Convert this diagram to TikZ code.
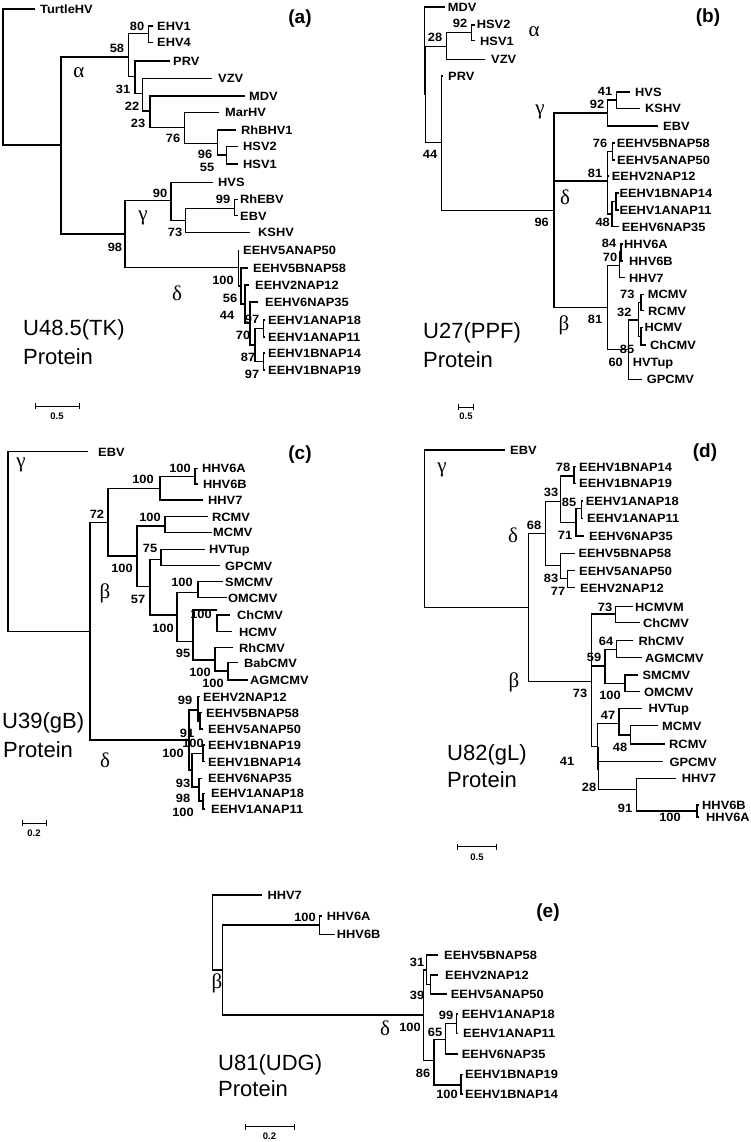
\documentclass[tikz,border=0pt]{standalone}
\usepackage{fontspec}
\setmainfont{Liberation Sans}
\newfontfamily\labfam[FakeStretch=1.07]{Liberation Sans}
\newfontfamily\gkfam{Liberation Serif}
\newcommand\lfont{\labfam\bfseries\fontsize{12}{12}\selectfont}
\newcommand\gfont{\gkfam\fontsize{21}{21}\selectfont}
\newcommand\tfont{\fontsize{22}{26}\selectfont}
\newcommand\pfont{\bfseries\fontsize{19}{19}\selectfont}
\newcommand\sfont{\bfseries\fontsize{9.5}{9.5}\selectfont}
\tikzset{
  br/.style={line width=1.2pt},
  lf/.style={anchor=west, inner sep=0pt, font=\lfont, text height=8.6pt, text depth=0pt},
  bs/.style={inner sep=0pt, font=\lfont, text height=8.6pt, text depth=0pt},
  gk/.style={inner sep=0pt, font=\gfont},
  ttl/.style={anchor=west, inner sep=0pt, font=\tfont},
  pl/.style={inner sep=0pt, font=\pfont},
  sc/.style={inner sep=0pt, font=\sfont},
}
\begin{document}
\begin{tikzpicture}[x=1pt,y=-1pt]
\useasboundingbox[fill=white] (0,0) rectangle (750,1142);
% ================= (a) =================
\begin{scope}[br]
\draw (35,9) -| (3,145) -- (61,145);
\draw (128.3,57) -| (61,234) -- (125,234);
\draw (148.3,33.3) -| (128.3,76.7) -- (135,76.7);
\draw (153.3,26) -| (148.3,42.7) -- (153.3,42.7);
\draw (170,61) -| (135,93.3) -- (142.7,93.3);
\draw (212,78.3) -| (142.7,111) -- (150,111);
\draw (245,96) -| (150,127.3) -- (184.3,127.3);
\draw (219,112.7) -| (184.3,143.3) -- (217.3,143.3);
\draw (236,130) -| (217.3,155) -- (226.7,155);
\draw (238,146.7) -| (226.7,164) -- (238,164);
\draw (171,200.7) -| (125,267.7) -- (238.7,267.7);
\draw (213,182.3) -| (171,220.7) -- (185.3,220.7);
\draw (234.7,208.3) -| (185.3,232.3) -- (250,232.3);
\draw (238.3,199.3) -| (234.7,215.7) -- (238.3,215.7);
\draw (238.7,250) |- (241,286);
\draw (248,268) -| (241,304) -- (245,304);
\draw (249,285) -| (245,323.5) -- (250,323.5);
\draw (258,302) -| (250,345) -- (255,345);
\draw (263.3,328.5) -| (255,361.5) -- (263.3,361.5);
\draw (265,320) -| (263.3,337) -- (265,337);
\draw (265,353) -| (263.3,370) -- (265,370);
\end{scope}
\node[lf] (aTurtle) at (40,9) {TurtleHV};
\node[lf] (aEHV1) at (157,26) {EHV1};
\node[lf] (aEHV4) at (157,42.7) {EHV4};
\node[lf] (aPRV) at (173,61) {PRV};
\node[lf] (aVZV) at (218,78.3) {VZV};
\node[lf] (aMDV) at (249,96) {MDV};
\node[lf] (aMarHV) at (225,112.7) {MarHV};
\node[lf] (aRhBHV) at (241,130) {RhBHV1};
\node[lf] (aHSV2) at (243,146.7) {HSV2};
\node[lf] (aHSV1) at (243,164) {HSV1};
\node[lf] (aHVS) at (218,182.3) {HVS};
\node[lf] (aRhEBV) at (240,199.3) {RhEBV};
\node[lf] (aEBV) at (240,215.7) {EBV};
\node[lf] (aKSHV) at (258,232.3) {KSHV};
\node[lf] (a5A) at (243,250) {EEHV5ANAP50};
\node[lf] (a5B) at (253,268) {EEHV5BNAP58};
\node[lf] (a2) at (255,285) {EEHV2NAP12};
\node[lf] (a6) at (265,302) {EEHV6NAP35};
\node[lf] (a1A18) at (268,320) {EEHV1ANAP18};
\node[lf] (a1A11) at (268,337) {EEHV1ANAP11};
\node[lf] (a1B14) at (268,353) {EEHV1BNAP14};
\node[lf] (a1B19) at (268,370) {EEHV1BNAP19};
\node[bs] (ab1) at (137,26) {80};
\node[bs] (ab2) at (117,48) {58};
\node[bs] (ab3) at (123,89) {31};
\node[bs] (ab4) at (132,106) {22};
\node[bs] (ab5) at (138,123) {23};
\node[bs] (ab6) at (173,138) {76};
\node[bs] (ab7) at (205,154) {96};
\node[bs] (ab8) at (207,167) {55};
\node[bs] (ab9) at (160,193) {90};
\node[bs] (ab10) at (223,199) {99};
\node[bs] (ab11) at (175,232) {73};
\node[bs] (ab12) at (115,247) {98};
\node[bs] (ab13) at (223,280) {100};
\node[bs] (ab14) at (230,298) {56};
\node[bs] (ab15) at (227,315) {44};
\node[bs] (ab16) at (252,319) {97};
\node[bs] (ab17) at (243,335) {70};
\node[bs] (ab18) at (248,357) {87};
\node[bs] (ab19) at (252,374) {97};
\node[gk] (aal) at (79,73) {α};
\node[gk] (aga) at (143,218) {γ};
\node[gk] (ade) at (177,293) {δ};
\node[ttl] (at1) at (23,330) {U48.5(TK)};
\node[ttl] (at2) at (23,357) {Protein};
\node[pl] (apl) at (300,19) {(a)};
\draw[line width=1pt] (35,403) -- (35,409) (35,406) -- (79,406) (79,403) -- (79,409);
\node[sc] (asc) at (57,416) {0.5};
% ================= (b) =================
\begin{scope}[br]
\draw (445,7) -| (424.5,95);
\draw (446.7,46.7) -| (425.8,142.7) -- (441.7,142.7);
\draw (471.7,32.3) -| (446.7,59.3) -- (485,59.3);
\draw (475,25) -| (471.7,40.7) -- (475,40.7);
\draw (443.3,76) -| (441.7,210.7) -- (554,210.7);
\draw (607.3,113) -| (554,307.3) -- (607.3,307.3);
\draw (554,181) -- (607.3,181);
\draw (616.7,100) -| (607.3,126) -- (658,126);
\draw (630,92) -| (616.7,108.3) -- (640,108.3);
\draw (612.3,151.7) -| (607.3,214) -- (612,214);
\draw (607.3,176) -- (609,176);
\draw (614.5,143) -| (612.3,160) -- (614.5,160);
\draw (616,201.5) -| (612,226.7) -- (619,226.7);
\draw (618.5,193) -| (616,210) -- (618.5,210);
\draw (619.5,265.3) -| (607.3,349.3) -- (628.3,349.3);
\draw (621,252) -| (619.5,277.7) -- (625,277.7);
\draw (622.5,244) -| (621,261) -- (622.5,261);
\draw (638.3,320) -| (628.3,379.3) -- (641.7,379.3);
\draw (641,302.5) -| (638.3,336.2) -- (641,336.2);
\draw (644,294.3) -| (641,310.7) -- (644,310.7);
\draw (643,327.3) -| (641,345) -- (646,345);
\end{scope}
\node[lf] (bMDV) at (447.7,7) {MDV};
\node[lf] (bHSV2) at (476.7,24) {HSV2};
\node[lf] (bHSV1) at (480,41) {HSV1};
\node[lf] (bVZV) at (491,59.3) {VZV};
\node[lf] (bPRV) at (448,76) {PRV};
\node[lf] (bHVS) at (635,92) {HVS};
\node[lf] (bKSHV) at (645,108.3) {KSHV};
\node[lf] (bEBV) at (663,126) {EBV};
\node[lf] (b5B) at (616.7,143) {EEHV5BNAP58};
\node[lf] (b5A) at (617,160) {EEHV5ANAP50};
\node[lf] (b2) at (611.7,176) {EEHV2NAP12};
\node[lf] (b1B14) at (619.3,193) {EEHV1BNAP14};
\node[lf] (b1A11) at (619.3,210) {EEHV1ANAP11};
\node[lf] (b6) at (621.7,226.7) {EEHV6NAP35};
\node[lf] (bHHV6A) at (624,244) {HHV6A};
\node[lf] (bHHV6B) at (629,261) {HHV6B};
\node[lf] (bHHV7) at (629,278) {HHV7};
\node[lf] (bMCMV) at (647.7,294.3) {MCMV};
\node[lf] (bRCMV) at (648,310.7) {RCMV};
\node[lf] (bHCMV) at (644.3,327.3) {HCMV};
\node[lf] (bChCMV) at (650,345) {ChCMV};
\node[lf] (bHVTup) at (632.7,362.3) {HVTup};
\node[lf] (bGPCMV) at (646.7,379.3) {GPCMV};
\node[bs] (bb1) at (460,23) {92};
\node[bs] (bb2) at (435,37) {28};
\node[bs] (bb3) at (430,154) {44};
\node[bs] (bb4) at (605,91) {41};
\node[bs] (bb5) at (597,104) {92};
\node[bs] (bb6) at (600,143) {76};
\node[bs] (bb7) at (595,173) {81};
\node[bs] (bb8) at (602.7,222) {48};
\node[bs] (bb9) at (541.7,222) {96};
\node[bs] (bb10) at (609,243) {84};
\node[bs] (bb11) at (610,257) {70};
\node[bs] (bb12) at (627.3,294.3) {73};
\node[bs] (bb13) at (624.3,311.7) {32};
\node[bs] (bb14) at (595,319) {81};
\node[bs] (bb15) at (627,349) {85};
\node[bs] (bb16) at (615.7,362.3) {60};
\node[gk] (bal) at (534,32) {α};
\node[gk] (bga) at (540,112) {γ};
\node[gk] (bde) at (565,197) {δ};
\node[gk] (bbe) at (564,325) {β};
\node[ttl] (bt1) at (423,333) {U27(PPF)};
\node[ttl] (bt2) at (423,360) {Protein};
\node[pl] (bpl) at (708,18) {(b)};
\draw[line width=1pt] (458,404) -- (458,410) (458,407) -- (473,407) (473,404) -- (473,410);
\node[sc] (bsc) at (466,416) {0.5};
% ================= (c) =================
\begin{scope}[br]
\draw (88,451.7) -| (8,631.7) -- (90,631.7);
\draw (108,522.7) -| (90,740) -- (189,740);
\draw (160,488.3) -| (108,556) -- (137,556);
\draw (195,476.7) -| (160,500) -- (203,500);
\draw (198,468.3) -| (195,484) -- (198,484);
\draw (165,526) -| (137,586.7) -- (150,586.7);
\draw (208,516.7) -| (165,532.3) -- (212,532.3);
\draw (161,559.3) -| (150,615) -- (177,615);
\draw (205,549.3) -| (161,565.7) -- (220,565.7);
\draw (198,592.3) -| (177,641.7) -- (193,641.7);
\draw (223,581.7) -| (198,597.7) -- (227,597.7);
\draw (217,610) -| (193,660) -- (215,660);
\draw (230,615) -| (217,631.7) -- (232,631.7);
\draw (233,647.7) -| (215,671) -- (228,671);
\draw (238,662.7) -| (228,680) -- (248,680);
\draw (198,710) -| (189,770) -- (192,770);
\draw (200,696.7) -| (198,721) -- (200,721);
\draw (201.7,712.7) -| (200,729) -- (203,729);
\draw (203,753.3) -| (192,787) -- (199,787);
\draw (204.5,745) -| (203,761.7) -- (204.5,761.7);
\draw (202,778.3) -| (199,801) -- (203,801);
\draw (204.5,793.3) -| (203,809) -- (204.5,809);
\end{scope}
\node[lf] (cEBV) at (98,451.7) {EBV};
\node[lf] (cHHV6A) at (202,468.3) {HHV6A};
\node[lf] (cHHV6B) at (203,484) {HHV6B};
\node[lf] (cHHV7) at (208,500) {HHV7};
\node[lf] (cRCMV) at (212,516.7) {RCMV};
\node[lf] (cMCMV) at (213,532.3) {MCMV};
\node[lf] (cHVTup) at (209,549.3) {HVTup};
\node[lf] (cGPCMV) at (225,565.7) {GPCMV};
\node[lf] (cSMCMV) at (225,581.7) {SMCMV};
\node[lf] (cOMCMV) at (228,597.7) {OMCMV};
\node[lf] (cChCMV) at (237,615) {ChCMV};
\node[lf] (cHCMV) at (239,631.7) {HCMV};
\node[lf] (cRhCMV) at (239,647.7) {RhCMV};
\node[lf] (cBabCMV) at (244,662.7) {BabCMV};
\node[lf] (cAGMCMV) at (250,680) {AGMCMV};
\node[lf] (c2) at (203,696.7) {EEHV2NAP12};
\node[lf] (c5B) at (206,712.7) {EEHV5BNAP58};
\node[lf] (c5A) at (208,729) {EEHV5ANAP50};
\node[lf] (c1B19) at (208,745) {EEHV1BNAP19};
\node[lf] (c1B14) at (208,761.7) {EEHV1BNAP14};
\node[lf] (c6) at (208,778.3) {EEHV6NAP35};
\node[lf] (c1A18) at (211,793.3) {EEHV1ANAP18};
\node[lf] (c1A11) at (211,809) {EEHV1ANAP11};
\node[bs] (cb1) at (97,514) {72};
\node[bs] (cb2) at (143,479) {100};
\node[bs] (cb3) at (180,468) {100};
\node[bs] (cb4) at (150,517) {100};
\node[bs] (cb5) at (122,568) {100};
\node[bs] (cb6) at (150,548) {75};
\node[bs] (cb7) at (138,599) {57};
\node[bs] (cb8) at (182,582) {100};
\node[bs] (cb9) at (163,628) {100};
\node[bs] (cb10) at (201,614) {100};
\node[bs] (cb11) at (183,653) {95};
\node[bs] (cb12) at (200,672) {100};
\node[bs] (cb13) at (213,683) {100};
\node[bs] (cb14) at (185,700) {99};
\node[bs] (cb15) at (187,733) {91};
\node[bs] (cb16) at (193,743) {100};
\node[bs] (cb17) at (173,753) {100};
\node[bs] (cb18) at (183,783) {93};
\node[bs] (cb19) at (183,798) {98};
\node[bs] (cb20) at (183,812) {100};
\node[gk] (cga) at (21,465) {γ};
\node[gk] (cbe) at (105,593) {β};
\node[gk] (cde) at (105,760) {δ};
\node[ttl] (ct1) at (2,723) {U39(gB)};
\node[ttl] (ct2) at (3,750) {Protein};
\node[pl] (cpl) at (300,455) {(c)};
\draw[line width=1pt] (22,820) -- (22,826) (22,823) -- (46,823) (46,820) -- (46,826);
\node[sc] (csc) at (34,833) {0.2};
% ================= (d) =================
\begin{scope}[br]
\draw (505,450) -| (424.3,607.3) -- (528.3,607.3);
\draw (545.7,533.3) -| (528.3,681.7) -- (591.7,681.7);
\draw (560.7,501.7) -| (545.7,565.7) -- (560.7,565.7);
\draw (574,476) -| (560.7,522.2) -- (576,522.2);
\draw (576,466.7) -| (574,483.3) -- (576,483.3);
\draw (581.7,508.3) -| (576,536) -- (584.3,536);
\draw (583,501) -| (581.7,518.3) -- (583,518.3);
\draw (575,553.3) -| (560.7,578.3) -- (567.7,578.3);
\draw (575,570.7) -| (567.7,587.7) -- (575,587.7);
\draw (615.7,614) -| (591.7,746.7) -- (597.3,746.7);
\draw (591.7,666) -- (605,666);
\draw (633.3,606.7) -| (615.7,622.7) -- (640,622.7);
\draw (616.7,649.3) -| (605,683.3) -- (625,683.3);
\draw (633.3,640.7) -| (616.7,657.7) -- (641.7,657.7);
\draw (638.3,675) -| (625,691.7) -- (640,691.7);
\draw (619,723.3) -| (597.3,770);
\draw (598.5,746.7) |- (636.7,789.3);
\draw (598,761.7) -- (663.3,761.7);
\draw (641.7,708.3) -| (619,735) -- (630.7,735);
\draw (658.3,725.7) -| (630.7,744) -- (665,744);
\draw (676,778.3) -| (636.7,811) -- (697,811);
\draw (699,805) -| (697,817) -- (699,817);
\end{scope}
\node[lf] (dEBV) at (510,450) {EBV};
\node[lf] (d1B14) at (579,466.7) {EEHV1BNAP14};
\node[lf] (d1B19) at (579,483.3) {EEHV1BNAP19};
\node[lf] (d1A18) at (585.7,501) {EEHV1ANAP18};
\node[lf] (d1A11) at (587,518.3) {EEHV1ANAP11};
\node[lf] (d6) at (589,536) {EEHV6NAP35};
\node[lf] (d5B) at (578.3,553.3) {EEHV5BNAP58};
\node[lf] (d5A) at (579,570.7) {EEHV5ANAP50};
\node[lf] (d2) at (580,587.7) {EEHV2NAP12};
\node[lf] (dHCMVM) at (635,606.7) {HCMVM};
\node[lf] (dChCMV) at (643,622.7) {ChCMV};
\node[lf] (dRhCMV) at (638.3,640.7) {RhCMV};
\node[lf] (dAGMCMV) at (645,657.7) {AGMCMV};
\node[lf] (dSMCMV) at (642.3,675) {SMCMV};
\node[lf] (dOMCMV) at (644,691.7) {OMCMV};
\node[lf] (dHVTup) at (648.3,708.3) {HVTup};
\node[lf] (dMCMV) at (662,725.7) {MCMV};
\node[lf] (dRCMV) at (669,744) {RCMV};
\node[lf] (dGPCMV) at (669.3,761.7) {GPCMV};
\node[lf] (dHHV7) at (681.7,778.3) {HHV7};
\node[lf] (dHHV6B) at (702,805) {HHV6B};
\node[lf] (dHHV6A) at (706,817) {HHV6A};
\node[bs] (db1) at (534,525) {68};
\node[bs] (db2) at (551,492) {33};
\node[bs] (db3) at (563,467) {78};
\node[bs] (db4) at (569,502) {85};
\node[bs] (db5) at (565,535) {71};
\node[bs] (db6) at (551,578) {83};
\node[bs] (db7) at (558,591) {77};
\node[bs] (db8) at (605,607) {73};
\node[bs] (db9) at (606,641) {64};
\node[bs] (db10) at (594,657) {59};
\node[bs] (db11) at (610,695) {100};
\node[bs] (db12) at (580,693) {73};
\node[bs] (db13) at (608,715) {47};
\node[bs] (db14) at (620,747) {48};
\node[bs] (db15) at (567,760.7) {41};
\node[bs] (db16) at (589,787) {28};
\node[bs] (db17) at (625,808) {91};
\node[bs] (db18) at (670,817) {100};
\node[gk] (dga) at (442,470) {γ};
\node[gk] (dde) at (513,535) {δ};
\node[gk] (dbe) at (514,682) {β};
\node[ttl] (dt1) at (447,755) {U82(gL)};
\node[ttl] (dt2) at (447,780) {Protein};
\node[pl] (dpl) at (705,453) {(d)};
\draw[line width=1pt] (457.7,843.7) -- (457.7,849.7) (457.7,846.7) -- (496.7,846.7) (496.7,843.7) -- (496.7,849.7);
\node[sc] (dsc) at (477,857) {0.5};
% ================= (e) =================
\begin{scope}[br]
\draw (261.7,895) -| (212.7,970) -- (222.7,970);
\draw (319.3,925) -| (222.7,1015) -- (423.3,1015);
\draw (322,916) -| (319.3,934.3) -- (335,934.3);
\draw (426.7,970) -| (423.3,1060.7) -- (434,1060.7);
\draw (438.3,955) -| (426.7,984.5) -- (430.7,984.5);
\draw (438,975) -| (430.7,994) -- (446.7,994);
\draw (445.7,1039.3) -| (434,1085) -- (461,1085);
\draw (456.7,1023.3) -| (445.7,1054) -- (458.3,1054);
\draw (458,1014) -| (456.7,1033.3) -- (458,1033.3);
\draw (462.5,1074.3) -| (461,1094) -- (462.5,1094);
\end{scope}
\node[lf] (eHHV7) at (267.3,895) {HHV7};
\node[lf] (eHHV6A) at (326.7,916) {HHV6A};
\node[lf] (eHHV6B) at (336.7,934.3) {HHV6B};
\node[lf] (e5B) at (444,955) {EEHV5BNAP58};
\node[lf] (e2) at (445,975) {EEHV2NAP12};
\node[lf] (e5A) at (450.7,994) {EEHV5ANAP50};
\node[lf] (e1A18) at (461.7,1014) {EEHV1ANAP18};
\node[lf] (e1A11) at (463,1033.3) {EEHV1ANAP11};
\node[lf] (e6) at (461.7,1054) {EEHV6NAP35};
\node[lf] (e1B19) at (465,1074.3) {EEHV1BNAP19};
\node[lf] (e1B14) at (465,1094) {EEHV1BNAP14};
\node[bs] (eb1) at (305,917) {100};
\node[bs] (eb2) at (417,962) {31};
\node[bs] (eb3) at (417,995) {39};
\node[bs] (eb4) at (410,1027) {100};
\node[bs] (eb5) at (435,1032) {65};
\node[bs] (eb6) at (446,1015) {99};
\node[bs] (eb7) at (423,1073) {86};
\node[bs] (eb8) at (447,1094) {100};
\node[gk] (ebe) at (217,983) {β};
\node[gk] (ede) at (385,1028) {δ};
\node[ttl] (et1) at (218,1065) {U81(UDG)};
\node[ttl] (et2) at (218,1088.3) {Protein};
\node[pl] (epl) at (548,913) {(e)};
\draw[line width=1pt] (245,1123.7) -- (245,1129.7) (245,1126.7) -- (294.3,1126.7) (294.3,1123.7) -- (294.3,1129.7);
\node[sc] (esc) at (269.5,1136) {0.2};
\end{tikzpicture}
\end{document}
